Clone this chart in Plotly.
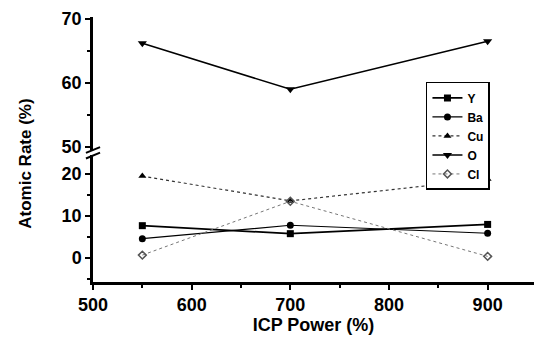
import plotly.graph_objects as go

power = [550, 700, 900]
y_vals = [7.7, 5.8, 8.0]
ba_vals = [4.6, 7.8, 5.9]
cu_vals = [19.5, 13.6, 18.8]
o_vals = [66.2, 59.0, 66.5]
cl_vals = [0.7, 13.5, 0.4]

x_ticks = [500, 600, 700, 800, 900]
low_ticks = [0, 10, 20]
high_ticks = [50, 60, 70]

font_main = "Liberation Sans"

def bold(vals):
    return ["<b>%d</b>" % v for v in vals]

fig = go.Figure()
fig.add_trace(go.Scatter(x=power, y=y_vals, name="<b>Y</b>", mode="lines+markers",
                         line=dict(color="black", width=1.8),
                         marker=dict(symbol="square", size=7, color="black")))
fig.add_trace(go.Scatter(x=power, y=ba_vals, name="<b>Ba</b>", mode="lines+markers",
                         line=dict(color="black", width=1.2),
                         marker=dict(symbol="circle", size=7, color="black")))
fig.add_trace(go.Scatter(x=power, y=cu_vals, name="<b>Cu</b>", mode="lines+markers",
                         line=dict(color="#333", width=1.2, dash="dot"),
                         marker=dict(symbol="triangle-up", size=7, color="black")))
fig.add_trace(go.Scatter(x=power, y=o_vals, name="<b>O</b>", mode="lines+markers", yaxis="y2",
                         line=dict(color="black", width=1.5),
                         marker=dict(symbol="triangle-down", size=8, color="black")))
fig.add_trace(go.Scatter(x=power, y=cl_vals, name="<b>Cl</b>", mode="lines+markers",
                         line=dict(color="#777", width=1, dash="dot"),
                         marker=dict(symbol="diamond-open", size=6, color="#555",
                                     line=dict(width=1.5))))

tickfont = dict(family=font_main, size=18, color="black")

common = dict(showgrid=False, zeroline=False, showline=True, linecolor="black", linewidth=2.5,
              ticks="outside", ticklen=5, tickwidth=2, tickcolor="black",
              tickfont=tickfont, automargin=False)

fig.update_layout(
    width=534, height=343,
    margin=dict(l=93, r=0, t=17, b=61),
    paper_bgcolor="white", plot_bgcolor="white",
    showlegend=True,
    legend=dict(x=0.755, y=0.755, xanchor="left", yanchor="top",
                bordercolor="black", borderwidth=1.5, bgcolor="white",
                font=dict(family=font_main, size=12, color="black"),
                tracegroupgap=0, itemwidth=30),
    xaxis=dict(range=[500, 947], tickvals=x_ticks, ticktext=bold(x_ticks),
               minor=dict(dtick=50, ticks="outside", ticklen=3, tickcolor="black"),
               title=dict(text="<b>ICP Power (%)</b>", standoff=4,
                          font=dict(family=font_main, size=18, color="black")),
               **common),
    yaxis=dict(domain=[0, 0.479], range=[-5.7, 24.5], tickvals=low_ticks, ticktext=bold(low_ticks),
               minor=dict(dtick=5, ticks="outside", ticklen=3, tickcolor="black"),
               **common),
    yaxis2=dict(domain=[0.498, 1], range=[49.5, 70.3], tickvals=high_ticks, ticktext=bold(high_ticks),
                minor=dict(dtick=5, ticks="outside", ticklen=3, tickcolor="black"),
                **common),
    shapes=[
        dict(type="line", xref="paper", yref="paper", x0=-0.016, x1=0.016, y0=0.466, y1=0.488,
             line=dict(color="black", width=2)),
        dict(type="line", xref="paper", yref="paper", x0=-0.016, x1=0.016, y0=0.487, y1=0.509,
             line=dict(color="black", width=2)),
    ],
    annotations=[
        dict(text="<b>Atomic Rate (%)</b>", textangle=-90, xref="paper", yref="paper",
             x=-0.155, y=0.445, xanchor="center", yanchor="middle", showarrow=False,
             font=dict(family="Liberation Sans Narrow, Liberation Sans", size=17, color="black")),
    ],
)

fig.write_html("out.html", config={"displayModeBar": False},
               post_script="document.body.style.margin='0';")
